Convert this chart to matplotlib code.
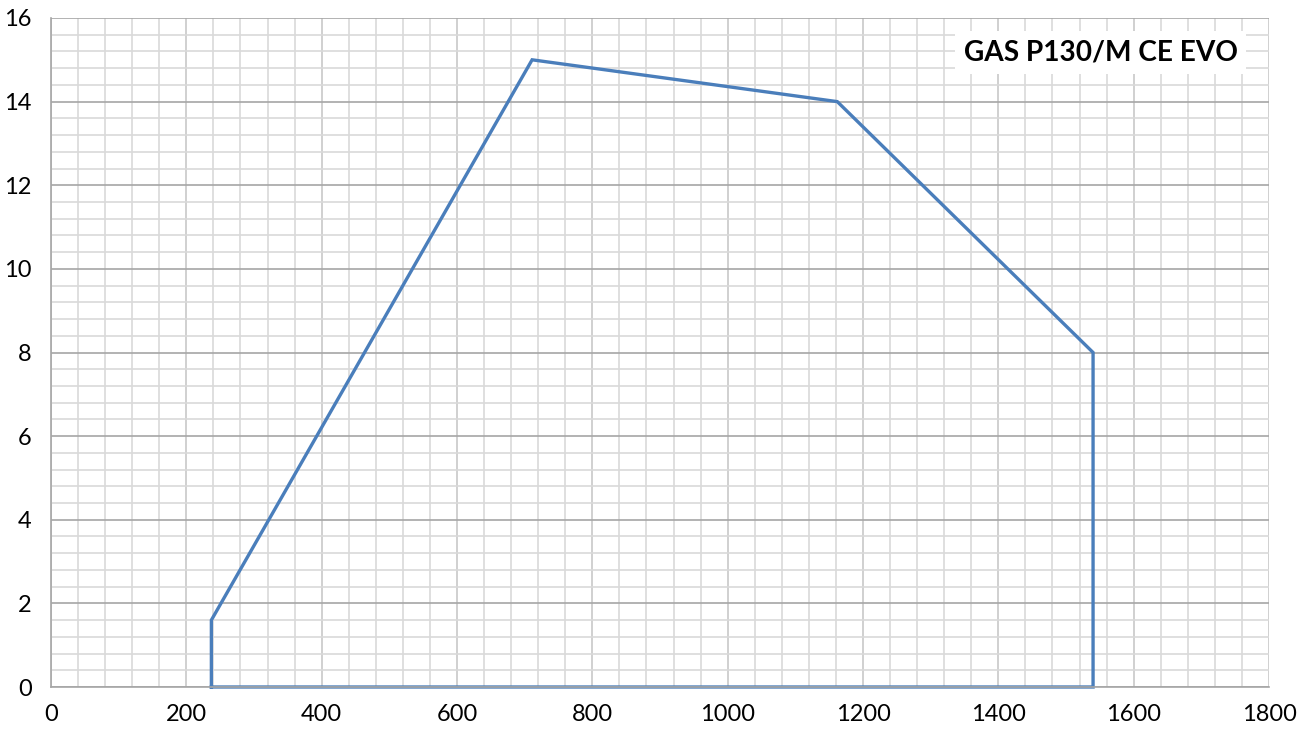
import matplotlib.pyplot as plt
import numpy as np
from matplotlib.ticker import MultipleLocator

# Arbeitsfeld des Brenners (Leistung vs. Druck)
x_vals = [237, 237, 711, 1162, 1540, 1540, 237]
y_vals = [0, 1.6, 15, 14, 8, 0, 0]
title = "GAS P130/M CE EVO"

plt.rcParams['font.family'] = ['Lato', 'DejaVu Sans']

fig = plt.figure(figsize=(13.11, 7.33), dpi=100)
ax = fig.add_axes([51 / 1311, 1 - 687 / 733, 1218 / 1311, 669 / 733])

ax.set_xlim(0, 1800)
ax.set_ylim(0, 16)
ax.xaxis.set_major_locator(MultipleLocator(200))
ax.xaxis.set_minor_locator(MultipleLocator(40))
ax.yaxis.set_major_locator(MultipleLocator(2))
ax.yaxis.set_minor_locator(MultipleLocator(0.4))

ax.grid(which='minor', color='#d9d9d9', linewidth=1.2)
ax.grid(which='major', axis='x', color='#c8c8c8', linewidth=1.2)
ax.grid(which='major', axis='y', color='#a6a6a6', linewidth=1.2)
ax.set_axisbelow(True)

for s in ['top', 'right']:
    ax.spines[s].set_visible(False)
for s in ['left', 'bottom']:
    ax.spines[s].set_color('#a6a6a6')
    ax.spines[s].set_linewidth(1.2)

ax.tick_params(which='both', length=0)
ax.tick_params(axis='x', labelsize=17, pad=12)
ax.tick_params(axis='y', labelsize=17, pad=14)

ax.plot(x_vals, y_vals, color='#4a7ebb', linewidth=2.4, solid_joinstyle='miter', clip_on=False)

ax.text(0.862, 0.948, title, transform=ax.transAxes, ha='center', va='center',
        fontsize=20.2, fontweight='bold', family=['Lato', 'DejaVu Sans'],
        bbox=dict(facecolor='white', edgecolor='none', pad=6))

fig.savefig('out.png', dpi=100)
